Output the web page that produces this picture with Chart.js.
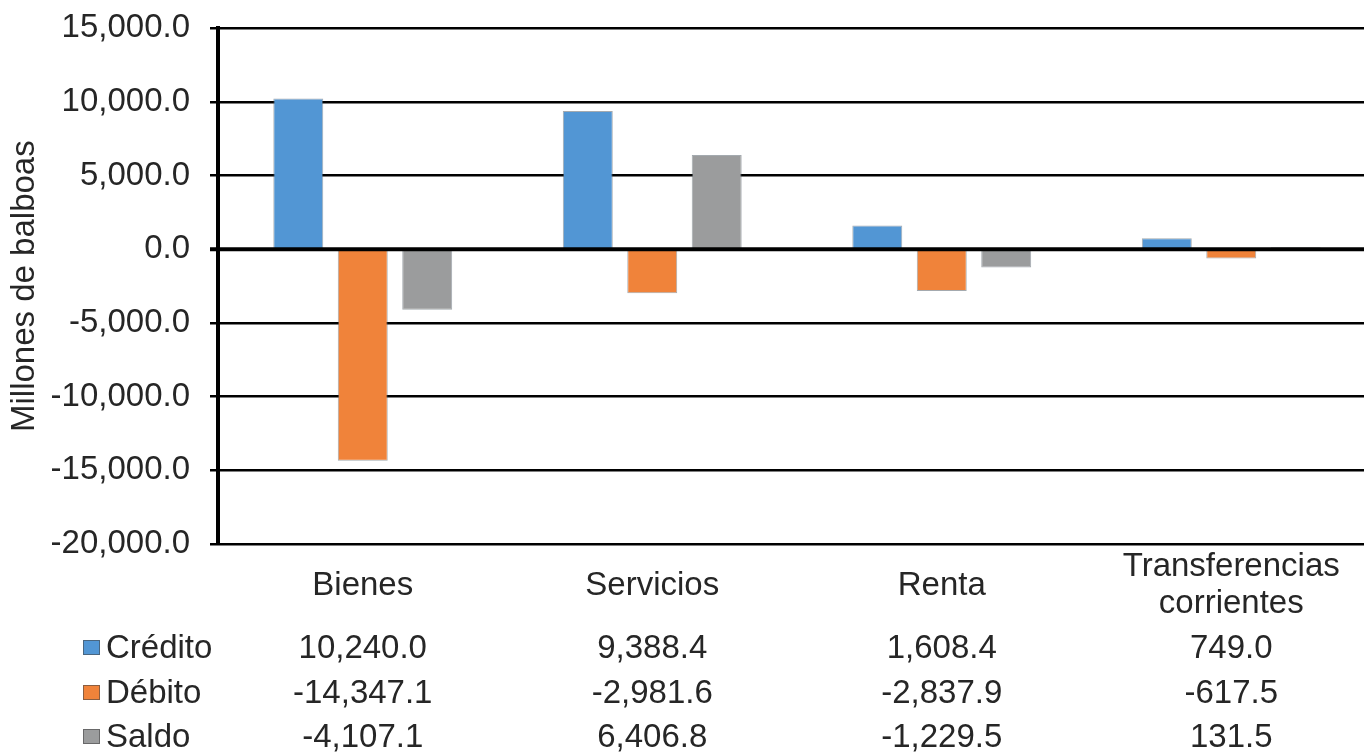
<!DOCTYPE html>
<html>
<head>
<meta charset="utf-8">
<script src="https://cdn.jsdelivr.net/npm/chart.js@4"></script>
<style>
  html, body { margin: 0; padding: 0; background: #fff; overflow: hidden; }
  #wrap { width: 1376px; height: 756px; }
</style>
</head>
<body>
<div id="wrap"><canvas id="balanza" width="1376" height="756"></canvas></div>
<script>
// Cuenta corriente por componente (millones de balboas)
const categorias = ['Bienes', 'Servicios', 'Renta', ['Transferencias', 'corrientes']];
const series = ['Crédito', 'Débito', 'Saldo'];
const credito = [10240.0, 9388.4, 1608.4, 749.0];
const debito = [-14347.1, -2981.6, -2837.9, -617.5];
const saldo = [-4107.1, 6406.8, -1229.5, 131.5];
const colores = ['#5296d4', '#f0833a', '#9b9c9d'];

const FONT = 'Liberation Sans, Arial, sans-serif';
const SIZE = 33;
const TEXT = '#262626';

function fmt(v) {
  return v.toLocaleString('en-US', { minimumFractionDigits: 1, maximumFractionDigits: 1 });
}

// zero line goes over the bars
const zeroLine = {
  id: 'zeroLine',
  afterDatasetsDraw(chart) {
    const { ctx, chartArea, scales } = chart;
    const y = scales.y.getPixelForValue(0);
    ctx.save();
    ctx.strokeStyle = '#000';
    ctx.lineWidth = 4;
    ctx.beginPath();
    ctx.moveTo(chartArea.left - 8, y);
    ctx.lineTo(chartArea.right, y);
    ctx.stroke();
    ctx.restore();
  }
};

// data table under the axis: legend key + values per category
const dataTable = {
  id: 'dataTable',
  afterDraw(chart) {
    const { ctx, chartArea, scales } = chart;
    const baselines = [114, 159, 203];
    ctx.save();
    ctx.font = SIZE + 'px ' + FONT;
    ctx.textBaseline = 'alphabetic';
    chart.data.datasets.forEach((ds, i) => {
      const yb = chartArea.bottom + baselines[i];
      ctx.fillStyle = colores[i];
      ctx.fillRect(83, yb - 18, 17, 15);
      ctx.strokeStyle = 'rgba(70,70,70,0.6)';
      ctx.lineWidth = 1;
      ctx.strokeRect(83.5, yb - 17.5, 16, 14);
      ctx.fillStyle = TEXT;
      ctx.textAlign = 'left';
      ctx.fillText(ds.label, 106, yb);
      ctx.textAlign = 'center';
      ds.data.forEach((v, j) => {
        ctx.fillText(fmt(v), scales.x.getPixelForValue(j), yb);
      });
    });
    ctx.restore();
  }
};

new Chart(document.getElementById('balanza'), {
  type: 'bar',
  data: {
    labels: categorias,
    datasets: [
      { label: series[0], data: credito },
      { label: series[1], data: debito },
      { label: series[2], data: saldo }
    ].map((d, i) => Object.assign(d, {
      backgroundColor: colores[i],
      borderColor: 'rgba(90,100,110,0.55)',
      borderWidth: 1,
      categoryPercentage: 0.668,
      barPercentage: 0.775
    }))
  },
  options: {
    responsive: false,
    animation: false,
    layout: { padding: { top: 26, right: 0, bottom: 0, left: 0 } },
    plugins: {
      legend: { display: false },
      tooltip: { enabled: false }
    },
    scales: {
      x: {
        grid: { display: false, drawTicks: false },
        border: { display: false },
        ticks: {
          color: TEXT,
          font: { family: FONT, size: SIZE, lineHeight: 1.12 },
          padding: 23,
          crossAlign: 'center',
          maxRotation: 0,
          autoSkip: false
        },
        afterFit(scale) { scale.height = 212; }
      },
      y: {
        min: -20000,
        max: 15000,
        border: { display: true, color: '#000', width: 4 },
        grid: {
          color: '#000',
          lineWidth: 2.5,
          tickLength: 8,
          drawTicks: true
        },
        ticks: {
          stepSize: 5000,
          color: TEXT,
          padding: 20,
          font: { family: FONT, size: SIZE, lineHeight: 0.5 },
          callback: v => fmt(v)
        },
        title: {
          display: true,
          text: 'Millones de balboas',
          color: TEXT,
          font: { family: FONT, size: SIZE },
          padding: { top: 5, bottom: 0 }
        },
        afterFit(scale) { scale.width = 218; }
      }
    }
  },
  plugins: [zeroLine, dataTable]
});
</script>
</body>
</html>
